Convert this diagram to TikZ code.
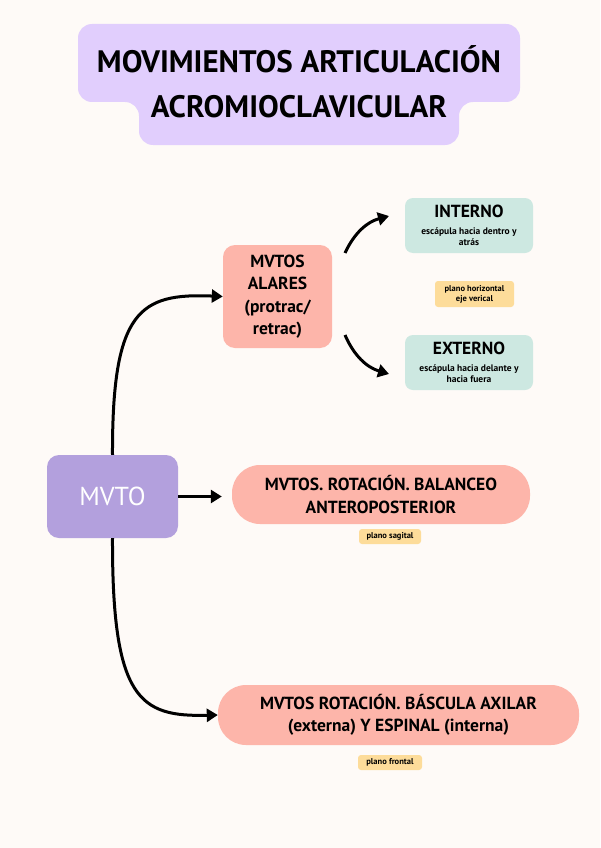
\documentclass[tikz,border=0pt]{standalone}
\usepackage{fontspec}
\setmainfont{PT Sans}
\usetikzlibrary{arrows.meta}

\definecolor{paper}{HTML}{FEFAF7}
\definecolor{lilac}{HTML}{E1CEFD}
\definecolor{violet}{HTML}{B3A0DD}
\definecolor{salmon}{HTML}{FDB5AA}
\definecolor{mint}{HTML}{CDE8E1}
\definecolor{sand}{HTML}{FDDC9A}

\tikzstyle{box}=[rounded corners=12pt, align=center, inner sep=0pt, font=\fontsize{17.5}{22.5}\selectfont\bfseries]
\tikzstyle{pinkbox}=[box, fill=salmon]
\tikzstyle{pill}=[box, fill=salmon, rounded corners=28pt]
\tikzstyle{mintbox}=[box, fill=mint, rounded corners=8pt]
\tikzstyle{tag}=[fill=sand, rounded corners=3pt, align=center, inner sep=0pt, font=\fontsize{8.5}{10}\selectfont\bfseries]
\tikzstyle{link}=[line width=3pt, -{Triangle[length=11pt,width=13pt]}]
\newcommand{\note}[1]{{\fontsize{9.5}{11}\selectfont\bfseries #1}}

\begin{document}
\begin{tikzpicture}[x=1pt,y=1pt]
\fill[paper] (0,0) rectangle (600,-848);
\useasboundingbox (0,0) rectangle (600,-848);

% title
\fill[lilac, rounded corners=14pt] (78,-24) -- (520,-24) -- (520,-102) -- (459,-102) -- (459,-145)
    -- (139,-145) -- (139,-102) -- (78,-102) -- cycle;
\node[align=center, font=\fontsize{31}{45}\selectfont\bfseries] (title) at (299,-82)
    {MOVIMIENTOS ARTICULACIÓN\\ACROMIOCLAVICULAR};

% boxes
\node[box, fill=violet, minimum width=131pt, minimum height=83pt, text=white,
    font=\fontsize{26}{30}\selectfont] (mvto) at (112.5,-496.5) {MVTO};
\node[pinkbox, minimum width=109pt, minimum height=103pt] (alares) at (277.5,-296.5)
    {MVTOS\\ALARES\\(protrac/\\retrac)};
\node[mintbox, minimum width=128pt, minimum height=55pt] (interno) at (469,-225.5)
    {INTERNO\\[-6pt]\note{escápula hacia dentro y}\\[-11pt]\note{atrás}};
\node[mintbox, minimum width=128pt, minimum height=55pt] (externo) at (469,-362.5)
    {EXTERNO\\[-6pt]\note{escápula hacia delante y}\\[-11pt]\note{hacia fuera}};
\node[tag, minimum width=79pt, minimum height=26pt] (horizontal) at (474.5,-294)
    {plano horizontal\\eje verical};
\node[pill, minimum width=298pt, minimum height=59pt] (balanceo) at (381,-494.5)
    {MVTOS. ROTACIÓN. BALANCEO\\ANTEROPOSTERIOR};
\node[tag, minimum width=62pt, minimum height=15pt] (sagital) at (390,-536.5) {plano sagital};
\node[pill, minimum width=361pt, minimum height=60pt] (bascula) at (398.5,-715)
    {MVTOS ROTACIÓN. BÁSCULA AXILAR\\(externa) Y ESPINAL (interna)};
\node[tag, minimum width=64pt, minimum height=15pt] (frontal) at (390,-762.5) {plano frontal};

% arrows
\coordinate (upfrom) at (345,-253);
\coordinate (upto) at (389,-216);
\coordinate (lowfrom) at (345,-335);
\coordinate (lowto) at (389,-374);
\draw[link] (mvto.north) .. controls (112,-310) and (140,-293) .. (alares.west);
\draw[link, shorten >=10pt] (mvto.east) -- (mvto.east -| balanceo.west);
\draw[link] (mvto.south) .. controls (112,-700) and (140,-717) .. (bascula.west);
\draw[link] (upfrom) to[bend left=25] (upto);
\draw[link] (lowfrom) to[bend right=25] (lowto);
\end{tikzpicture}
\end{document}
